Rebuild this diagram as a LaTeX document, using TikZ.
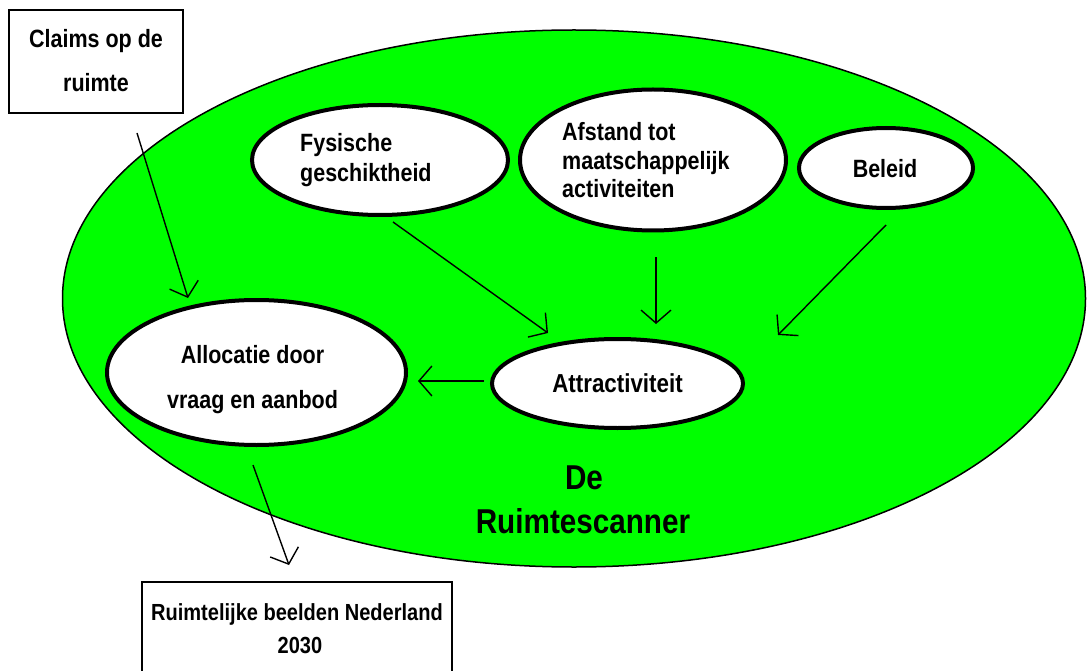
\documentclass[tikz,border=0pt]{standalone}
\usepackage{fontspec}
\setmainfont{Liberation Sans}[FakeStretch=0.86]
\usetikzlibrary{shapes.geometric,arrows.meta}
\definecolor{vgreen}{RGB}{0,255,0}
\begin{document}
\begin{tikzpicture}[x=1pt,y=-1pt,
  oval/.style={ellipse, draw=black, line width=4pt, fill=white, inner sep=0pt},
  lbl/.style={anchor=base, inner sep=0pt, font=\bfseries\fontsize{25}{30}\selectfont},
  lbll/.style={anchor=base west, inner sep=0pt, font=\bfseries\fontsize{25}{30}\selectfont},
  arr/.style={line width=1.4pt, -{Straight Barb[length=13pt,width=30pt,line width=1.4pt]}},
  box/.style={draw=black, line width=1.5pt, fill=white, inner sep=0pt}
]
\useasboundingbox (0,0) rectangle (1087,671);
\fill[white] (0,0) rectangle (1087,671);

% big green ellipse
\node[ellipse, draw=black, line width=1.5pt, fill=vgreen, inner sep=0pt,
      minimum width=1023pt, minimum height=537pt] (scanner) at (574,298.5) {};

% boxes
\node[box, minimum width=174pt, minimum height=103pt] (claims) at (96,61.5) {};
\node[box, minimum width=310pt, minimum height=118pt] (beelden) at (297,641) {};

% ellipses
\node[oval, minimum width=256pt, minimum height=110pt] (fys) at (380,160) {};
\node[oval, minimum width=266pt, minimum height=141pt] (afst) at (653,160) {};
\node[oval, minimum width=174pt, minimum height=80pt] (bel) at (886,168) {};
\node[oval, minimum width=299pt, minimum height=145pt] (alloc) at (256.5,372.5) {};
\node[oval, minimum width=251pt, minimum height=89pt] (attr) at (617.5,383.5) {};

% texts
\node[lbl] (claimsA) at (96,48) {Claims op de};
\node[lbl] (claimsB) at (96,92) {ruimte};
\node[lbll] (fysA) at (300,152) {Fysische};
\node[lbll] (fysB) at (300,182) {geschiktheid};
\node[lbll] (afstA) at (562,141) {Afstand tot};
\node[lbll] (afstB) at (562,170) {maatschappelijk};
\node[lbll] (afstC) at (562,198) {activiteiten};
\node[lbl] (belA) at (885,178) {Beleid};
\node[lbl] (allocA) at (252.5,363) {Allocatie door};
\node[lbl] (allocB) at (252.5,408) {vraag en aanbod};
\node[lbl, font=\bfseries\fontsize{26}{30}\selectfont] (attrA) at (617.5,392) {Attractiviteit};
\node[lbl, font=\bfseries\fontsize{34.5}{40}\selectfont] (deA) at (584,489) {De};
\node[lbl, font=\bfseries\fontsize{34.5}{40}\selectfont] (deB) at (583,533) {Ruimtescanner};
\node[lbl, font=\bfseries\fontsize{23.3}{28}\selectfont] (beeldenA) at (297,620) {Ruimtelijke beelden Nederland};
\node[lbl, font=\bfseries\fontsize{23.3}{28}\selectfont] (beeldenB) at (300,653) {2030};

% connector end points
\coordinate (claimsOut) at (137,133);
\coordinate (allocIn) at (188,298);
\coordinate (fysOut) at (393,222);
\coordinate (attrInA) at (548,333);
\coordinate (afstOut) at (656,257);
\coordinate (attrInB) at (656,324);
\coordinate (belOut) at (886,225);
\coordinate (attrInC) at (778,335);
\coordinate (attrOut) at (484,381);
\coordinate (allocInB) at (418,381);
\coordinate (allocOut) at (253,465);
\coordinate (beeldenIn) at (289,565);

\draw[arr] (claimsOut) -- (allocIn);
\draw[arr] (fysOut) -- (attrInA);
\draw[arr] (afstOut) -- (attrInB);
\draw[arr] (belOut) -- (attrInC);
\draw[arr] (attrOut) -- (allocInB);
\draw[arr] (allocOut) -- (beeldenIn);
\end{tikzpicture}
\end{document}
